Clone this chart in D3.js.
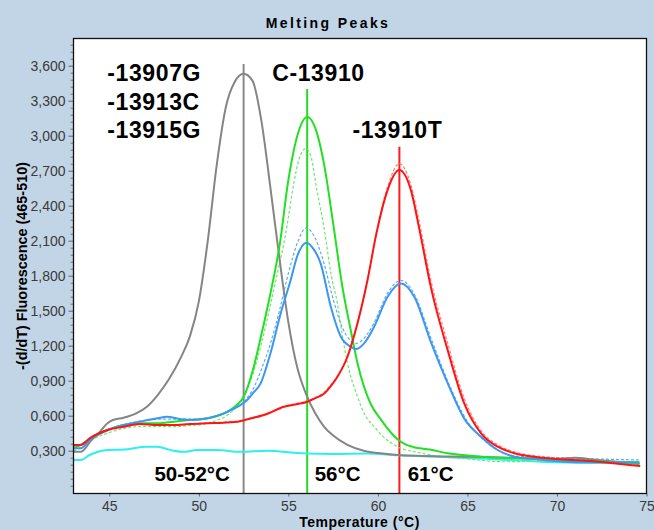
<!DOCTYPE html>
<html><head><meta charset="utf-8">
<script src="https://cdn.jsdelivr.net/npm/d3@7"></script>
<style>
html,body{margin:0;padding:0;background:#c2d5e6;}
svg{display:block;}
</style></head>
<body>
<script>
// ---------- DATA ----------
const xTicks = [45, 50, 55, 60, 65, 70, 75];
const yTicks = [0.3, 0.6, 0.9, 1.2, 1.5, 1.8, 2.1, 2.4, 2.7, 3.0, 3.3, 3.6];

const grayT = [43.0,43.4,44.0,44.4,44.9,45.2,45.8,46.5,47.1,47.7,48.3,49.0,49.5,50.0,50.5,51.0,51.5,52.0,52.5,53.0,53.5,54.0,54.5,55.0,55.5,56.0,56.5,57.0,57.5,58.3,59.2,60.0,61.1,62.5,64.0,66.0,68.0,70.0,71.0,72.0,73.0,74.6];
const grayV = [0.29,0.29,0.39,0.45,0.535,0.563,0.583,0.62,0.677,0.777,0.906,1.10,1.28,1.58,2.10,2.75,3.24,3.46,3.53,3.47,3.12,2.55,1.95,1.40,1.01,0.78,0.62,0.505,0.43,0.35,0.30,0.28,0.263,0.255,0.25,0.245,0.238,0.229,0.24,0.225,0.21,0.186];

const greenT = [43.0,43.56,44.3,44.9,45.8,46.7,47.7,48.6,49.5,50.5,51.4,52.1,52.5,53.0,53.5,54.0,54.5,55.0,55.5,56.05,56.6,57.0,57.5,58.0,58.5,58.86,59.2,59.6,60.2,60.7,61.2,61.6,62.0,62.9,63.9,65.8,67.6,71.4,74.6];
const greenV = [0.32,0.363,0.44,0.477,0.52,0.535,0.535,0.549,0.563,0.578,0.62,0.69,0.76,0.98,1.30,1.65,2.05,2.62,3.00,3.16,3.02,2.75,2.25,1.72,1.32,1.05,0.86,0.70,0.56,0.46,0.385,0.35,0.33,0.31,0.278,0.249,0.235,0.215,0.19];

const greenDashT = [43.0,43.5,44.0,44.9,45.8,46.7,47.7,48.6,49.5,50.5,51.0,51.6,52.0,52.5,53.0,53.5,54.0,54.5,54.75,55.0,55.3,55.6,55.97,56.3,56.53,57.0,57.4,57.74,58.0,58.3,58.86,59.3,59.79,60.3,61.1,62.4,63.5,65.0,67.0,69.0,71.0,73.0,74.6];
const greenDashV = [0.30,0.33,0.39,0.45,0.49,0.506,0.506,0.506,0.515,0.535,0.56,0.605,0.66,0.76,0.95,1.22,1.55,1.90,2.077,2.30,2.59,2.80,2.89,2.80,2.59,2.20,1.80,1.56,1.30,1.05,0.763,0.60,0.506,0.42,0.334,0.28,0.25,0.23,0.205,0.21,0.215,0.21,0.20];

const blueT = [43.0,43.4,43.9,44.9,45.8,46.7,47.7,48.2,49.0,49.7,50.5,51.4,51.8,52.2,52.7,53.0,53.45,54.0,54.57,55.13,55.5,56.02,56.4,56.8,57.37,57.93,58.49,58.77,59.23,59.79,60.54,61.28,62.03,62.96,63.9,64.82,65.76,66.69,67.62,69.0,70.0,72.0,74.6];
const blueV = [0.32,0.32,0.392,0.477,0.52,0.549,0.578,0.591,0.57,0.563,0.578,0.62,0.649,0.68,0.734,0.79,0.877,1.135,1.477,1.763,1.97,2.083,2.03,1.906,1.534,1.277,1.191,1.171,1.22,1.363,1.62,1.734,1.62,1.23,0.877,0.575,0.42,0.306,0.249,0.225,0.21,0.20,0.20];

const blueDashT = [43.0,44.0,45.0,46.0,47.0,48.0,49.0,50.0,51.0,52.0,52.5,53.0,53.5,54.0,54.5,55.0,55.5,56.0,56.5,57.0,57.5,58.0,58.5,58.8,59.2,59.8,60.5,61.3,62.0,63.0,64.0,65.0,66.0,67.0,68.0,70.0,72.0,74.6];
const blueDashV = [0.33,0.40,0.48,0.53,0.56,0.57,0.57,0.57,0.60,0.66,0.72,0.82,1.00,1.22,1.50,1.82,2.08,2.21,2.12,1.90,1.60,1.36,1.24,1.22,1.26,1.40,1.64,1.76,1.65,1.25,0.86,0.55,0.38,0.28,0.25,0.24,0.23,0.22];

const redT = [43.0,43.4,43.9,44.9,45.8,46.7,47.7,48.6,49.5,50.5,51.4,52.3,53.0,53.8,54.75,55.5,56.06,56.5,57.0,57.4,57.74,58.3,58.86,59.42,59.9,60.54,61.19,61.84,62.3,62.96,63.9,64.82,65.76,66.69,67.62,69.5,72.3,74.65];
const redV = [0.349,0.349,0.406,0.477,0.506,0.529,0.52,0.52,0.529,0.535,0.54,0.553,0.58,0.615,0.677,0.70,0.72,0.75,0.79,0.86,0.934,1.105,1.392,1.763,2.15,2.534,2.705,2.534,2.21,1.70,1.16,0.706,0.449,0.334,0.278,0.235,0.206,0.169];

const redDashT = [43.0,43.4,43.9,44.9,45.8,46.7,47.7,48.6,49.5,50.5,51.4,52.3,53.0,53.8,54.75,55.5,56.06,56.5,57.0,57.4,57.74,58.3,58.86,59.42,59.9,60.54,61.19,61.84,62.3,62.96,63.9,64.82,65.76,66.69,67.62,69.5,72.3,74.65];
const redDashV = [0.345,0.345,0.40,0.47,0.50,0.525,0.525,0.522,0.53,0.538,0.545,0.556,0.585,0.62,0.68,0.705,0.725,0.755,0.80,0.87,0.94,1.11,1.40,1.76,2.16,2.56,2.76,2.58,2.27,1.76,1.22,0.75,0.47,0.35,0.29,0.245,0.22,0.19];

const cyanT = [43.0,43.4,43.9,44.9,45.8,47.1,47.66,48.2,48.6,49.16,49.9,51.0,52.33,53.82,55.69,57.55,59.4,61.1,63.0,66.0,68.0,70.0,72.0,74.6];
const cyanV = [0.22,0.22,0.263,0.306,0.31,0.334,0.334,0.315,0.30,0.29,0.306,0.306,0.29,0.30,0.278,0.272,0.275,0.26,0.25,0.23,0.215,0.20,0.195,0.20];

const markerT = [52.5, 56.05, 61.2];
const markerTop = [3.615, 3.40, 2.905];

const labelText = ["-13907G","-13913C","-13915G","C-13910","-13910T"];
const labelT = [44.89, 44.89, 44.89, 54.10, 58.58];
const labelV = [3.472, 3.219, 2.98, 3.472, 2.977];

const tmText = ["50-52°C","56°C","61°C"];
const tmT = [47.52, 56.47, 61.66];
const tmV = [0.043, 0.043, 0.043];

const titleText = "Melting Peaks";
const xTitle = "Temperature (°C)";
const yTitle = "-(d/dT) Fluorescence (465-510)";

// ---------- CHART ----------
const W = 654, H = 530;
const L = 73.5, R = 646.5, T = 38.5, B = 493.5;

const svg = d3.select("body").append("svg").attr("width", W).attr("height", H);
svg.append("rect").attr("width", W).attr("height", H).attr("fill", "#c2d5e6");

const x = d3.scaleLinear().domain([43, 75]).range([L, R]);
const y = d3.scaleLinear().domain([-0.067, 3.833]).range([B, T]);

svg.append("rect").attr("x", L).attr("y", T).attr("width", R - L).attr("height", B - T).attr("fill", "#fff");

svg.append("clipPath").attr("id", "clip").append("rect")
  .attr("x", L).attr("y", T).attr("width", R - L).attr("height", B - T);

const fmt = v => d3.format(".3f")(v).replace(".", ",");

// y axis
const yAx = d3.axisLeft(y).tickValues(yTicks).tickSize(5).tickPadding(3).tickFormat(fmt);
const gy = svg.append("g").attr("transform", `translate(${L},0)`).call(yAx);
gy.select(".domain").remove();
gy.selectAll("line").attr("stroke", "#666");
gy.selectAll("text").attr("font-family", "'Liberation Sans', Arial, sans-serif").attr("font-size", 14).attr("fill", "#3a3a3a");
// minor y ticks
const minor = d3.range(0, 3.8, 0.06).filter(v => !yTicks.some(t => Math.abs(t - v) < 1e-6));
const yMin = d3.axisLeft(y).tickValues(minor).tickSize(3).tickFormat("");
const gym = svg.append("g").attr("transform", `translate(${L},0)`).call(yMin);
gym.select(".domain").remove();
gym.selectAll("line").attr("stroke", "#777");

// x axis
const xAx = d3.axisBottom(x).tickValues(xTicks).tickSize(3).tickPadding(5).tickFormat(d3.format("d"));
const gx = svg.append("g").attr("transform", `translate(0,${B})`).call(xAx);
gx.select(".domain").remove();
gx.selectAll("line").attr("stroke", "#666");
gx.selectAll("text").attr("font-family", "'Liberation Sans', Arial, sans-serif").attr("font-size", 14).attr("fill", "#3a3a3a");

const plot = svg.append("g").attr("clip-path", "url(#clip)");

const line = d3.line().x(d => x(d[0])).y(d => y(d[1])).curve(d3.curveMonotoneX);
const zip = (a, b) => a.map((t, i) => [t, b[i]]);

// marker lines
const markerColors = ["#8a8a8a", "#22dd22", "#ff1a1a"];
markerT.forEach((t, i) => {
  plot.append("line").attr("x1", x(t)).attr("x2", x(t)).attr("y1", y(markerTop[i])).attr("y2", B)
    .attr("stroke", markerColors[i]).attr("stroke-width", 2);
});

const series = [
  {t: cyanT, v: cyanV, c: "#2cf0f0", w: 2, d: null},
  {t: greenDashT, v: greenDashV, c: "#6ee66e", w: 1.2, d: "3,2"},
  {t: blueDashT, v: blueDashV, c: "#5faaf5", w: 1.2, d: "3,2"},
  {t: redDashT, v: redDashV, c: "#ff7a7a", w: 1.2, d: "3,2"},
  {t: grayT, v: grayV, c: "#858585", w: 2, d: null},
  {t: greenT, v: greenV, c: "#22e022", w: 2, d: null},
  {t: blueT, v: blueV, c: "#3a98f2", w: 2, d: null},
  {t: redT, v: redV, c: "#ff1414", w: 2, d: null},
];
series.forEach(s => {
  plot.append("path").attr("d", line(zip(s.t, s.v))).attr("fill", "none")
    .attr("stroke", s.c).attr("stroke-width", s.w)
    .attr("stroke-dasharray", s.d).attr("stroke-linejoin", "round");
});

// frame
svg.append("rect").attr("x", L).attr("y", T).attr("width", R - L).attr("height", B - T)
  .attr("fill", "none").attr("stroke", "#111").attr("stroke-width", 1.3);

// annotation labels
labelText.forEach((s, i) => {
  svg.append("text").attr("x", x(labelT[i])).attr("y", y(labelV[i])).text(s)
    .attr("font-family", "'Liberation Sans', Arial, sans-serif").attr("font-weight", "bold")
    .attr("font-size", 23).attr("letter-spacing", "0.6px").attr("fill", "#000");
});
tmText.forEach((s, i) => {
  svg.append("text").attr("x", x(tmT[i])).attr("y", y(tmV[i])).text(s)
    .attr("font-family", "'Liberation Sans', Arial, sans-serif").attr("font-weight", "bold")
    .attr("font-size", 20.5).attr("fill", "#000");
});

// titles
svg.append("text").attr("x", 328).attr("y", 27.7).attr("text-anchor", "middle").text(titleText)
  .attr("font-family", "'Liberation Sans', Arial, sans-serif").attr("font-weight", "bold")
  .attr("font-size", 14).attr("letter-spacing", "2.4px").attr("fill", "#000");
svg.append("text").attr("x", 359.5).attr("y", 527).attr("text-anchor", "middle").text(xTitle)
  .attr("font-family", "'Liberation Sans', Arial, sans-serif").attr("font-weight", "bold")
  .attr("font-size", 14).attr("letter-spacing", "0.5px").attr("fill", "#000");
svg.append("text").attr("transform", "translate(26.5,266) rotate(-90)").attr("text-anchor", "middle").text(yTitle)
  .attr("font-family", "'Liberation Sans', Arial, sans-serif").attr("font-weight", "bold")
  .attr("font-size", 14.4).attr("fill", "#000");
</script>
</body></html>
